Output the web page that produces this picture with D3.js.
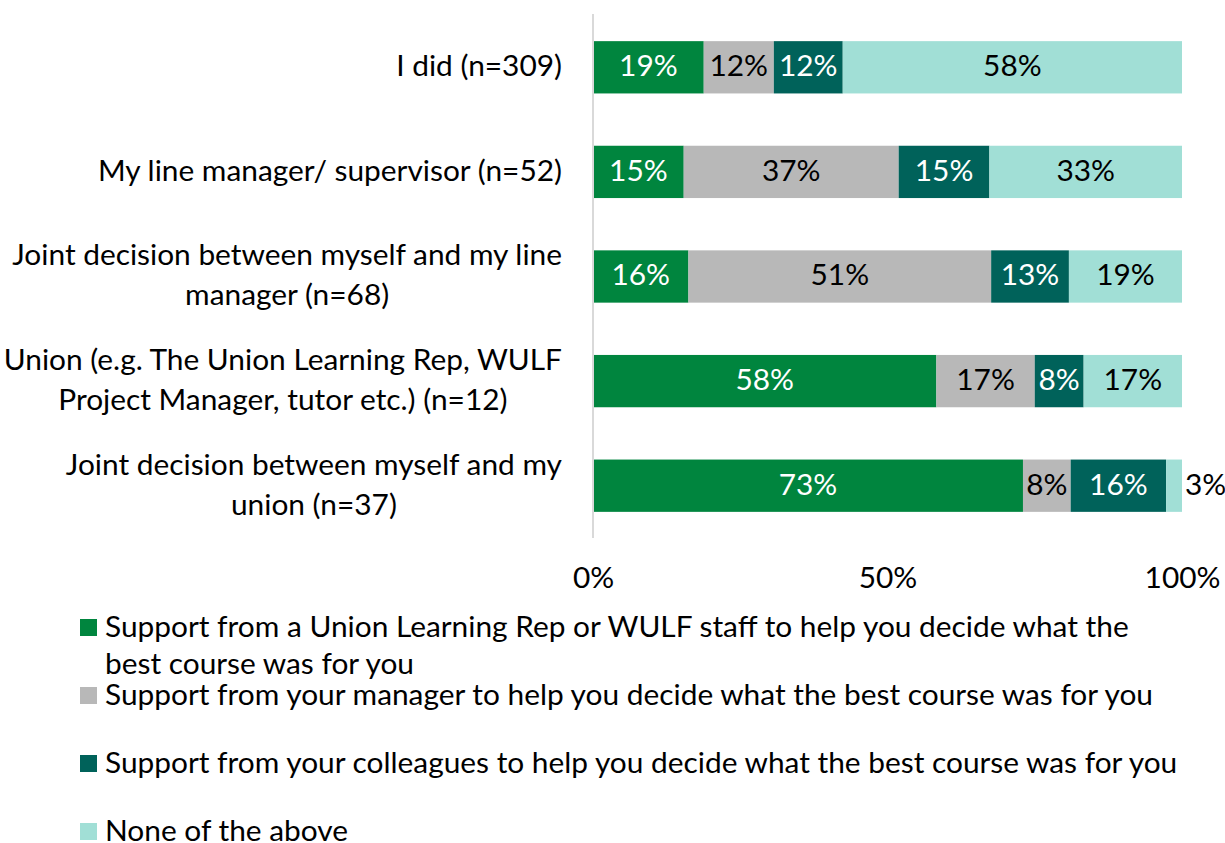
<!DOCTYPE html>
<html>
<head>
<meta charset="utf-8">
<script src="https://cdn.jsdelivr.net/npm/d3@7"></script>
<style>
body { margin: 0; background: #fff; }
text { font-family: Lato, "Open Sans", sans-serif; fill: #000; }
</style>
</head>
<body>
<div id="chartContainer"></div>
<script>
// kategorijas (rindas), "\n" = jauna rinda
var categories = [
	"I did (n=309)",
	"My line manager/ supervisor (n=52)",
	"Joint decision between myself and my line\nmanager (n=68)",
	"Union (e.g. The Union Learning Rep, WULF\nProject Manager, tutor etc.) (n=12)",
	"Joint decision between myself and my\nunion (n=37)"
];
var seriesNames = [
	"Support from a Union Learning Rep or WULF staff to help you decide what the\nbest course was for you",
	"Support from your manager to help you decide what the best course was for you",
	"Support from your colleagues to help you decide what the best course was for you",
	"None of the above"
];
var unionSupport     = [18.8, 15.4, 16.2, 58.3, 73.0];
var managerSupport   = [11.9, 36.5, 51.4, 16.7, 8.1];
var colleagueSupport = [11.7, 15.4, 13.2, 8.3, 16.2];
var noneOfAbove      = [57.6, 32.7, 19.2, 16.7, 2.7];
var xTicks = [0, 50, 100];

var Chart = {
	width : 1225,
	height : 843,
	left : 593, // 0% līnija
	right : 1182, // 100%
	top : 15,
	bottom : 538,
	colors : ["#00853e", "#b8b8b8", "#00625a", "#a1dfd6"],
	labelColors : ["#fff", "#000", "#fff", "#000"],
	fontSize : 32,

	drawChart : function(){
		var svg = d3.select("#chartContainer").append("svg")
			.attr("width", Chart.width)
			.attr("height", Chart.height);

		// fonta izmērs pielāgots oriģinālā teksta platumam
		var probe = svg.append("text").attr("font-size", 32).text("Joint decision between myself and my line");
		Chart.fontSize = 32 * 550 / probe.node().getComputedTextLength();
		probe.remove();

		var rows = categories.map(function(c, i){
			return { cat: c, s0: unionSupport[i], s1: managerSupport[i], s2: colleagueSupport[i], s3: noneOfAbove[i] };
		});
		var stacked = d3.stack().keys(["s0", "s1", "s2", "s3"])(rows);

		var x = d3.scaleLinear().domain([0, 100]).range([Chart.left, Chart.right]);
		var y = d3.scaleBand().domain(categories).range([Chart.top, Chart.bottom]).paddingInner(0.5).paddingOuter(0.25);

		this.drawBars(svg, stacked, x, y);
		this.drawAxes(svg, x, y);
		this.drawLegend(svg);
	},

	drawBars : function(svg, stacked, x, y){
		var fs = Chart.fontSize;
		var g = svg.append("g").attr("class", "bars");
		stacked.forEach(function(layer, k){
			var lg = g.append("g");
			lg.selectAll("rect").data(layer).enter().append("rect")
				.attr("x", function(d){ return x(d[0]); })
				.attr("y", function(d){ return y(d.data.cat); })
				.attr("width", function(d){ return x(d[1]) - x(d[0]); })
				.attr("height", y.bandwidth())
				.attr("fill", Chart.colors[k]);

			layer.forEach(function(d){
				var w = x(d[1]) - x(d[0]);
				var label = Math.round(d[1] - d[0]) + "%";
				var t = lg.append("text")
					.attr("font-size", fs)
					.attr("y", y(d.data.cat) + y.bandwidth() / 2 + fs * 0.3)
					.text(label);
				var tw = t.node().getComputedTextLength();
				if(tw > w - 2){
					// neder segmentā - liek blakus
					t.attr("x", x(d[1]) + 3).attr("text-anchor", "start").style("fill", "#000");
				} else {
					t.attr("x", (x(d[0]) + x(d[1])) / 2).attr("text-anchor", "middle").style("fill", Chart.labelColors[k]);
				}
			});
		});
	},

	drawAxes : function(svg, x, y){
		var fs = Chart.fontSize;
		// vertikālā ass
		svg.append("line")
			.attr("x1", Chart.left).attr("x2", Chart.left)
			.attr("y1", Chart.top - 1).attr("y2", Chart.bottom)
			.style("stroke", "#d9d9d9")
			.style("stroke-width", 2);

		var xAxis = svg.append("g")
			.attr("transform", "translate(0," + 588 + ")")
			.call(d3.axisBottom(x).tickValues(xTicks).tickSize(0).tickPadding(0).tickFormat(function(d){ return d + "%"; }));
		xAxis.select(".domain").remove();
		xAxis.selectAll("text").attr("font-size", fs).attr("font-family", null).attr("dy", 0);

		// kategoriju nosaukumi
		var lineH = 40;
		var labels = svg.append("g").attr("class", "cat-labels");
		categories.forEach(function(c){
			var lines = c.split("\n");
			var cy = y(c) + y.bandwidth() / 2;
			var t = labels.append("text")
				.attr("font-size", fs)
				.attr("text-anchor", "middle");
			lines.forEach(function(l, i){
				t.append("tspan")
					.attr("y", cy + fs * 0.3 + (i - (lines.length - 1) / 2) * lineH)
					.text(l);
			});
			var maxW = 0;
			t.selectAll("tspan").each(function(){
				maxW = Math.max(maxW, this.getComputedTextLength());
			});
			t.selectAll("tspan").attr("x", 562 - maxW / 2);
		});
	},

	drawLegend : function(svg){
		var fs = Chart.fontSize;
		var lineH = 37;
		var baselines = [637, 705, 773, 841];
		var g = svg.append("g").attr("class", "legend");
		seriesNames.forEach(function(name, i){
			var b = baselines[i];
			g.append("rect")
				.attr("x", 80).attr("y", b - 18)
				.attr("width", 17).attr("height", 17)
				.attr("fill", Chart.colors[i]);
			var t = g.append("text").attr("font-size", fs);
			name.split("\n").forEach(function(l, j){
				t.append("tspan").attr("x", 105).attr("y", b + j * lineH).text(l);
			});
		});
	}
};

Chart.drawChart();
</script>
</body>
</html>
